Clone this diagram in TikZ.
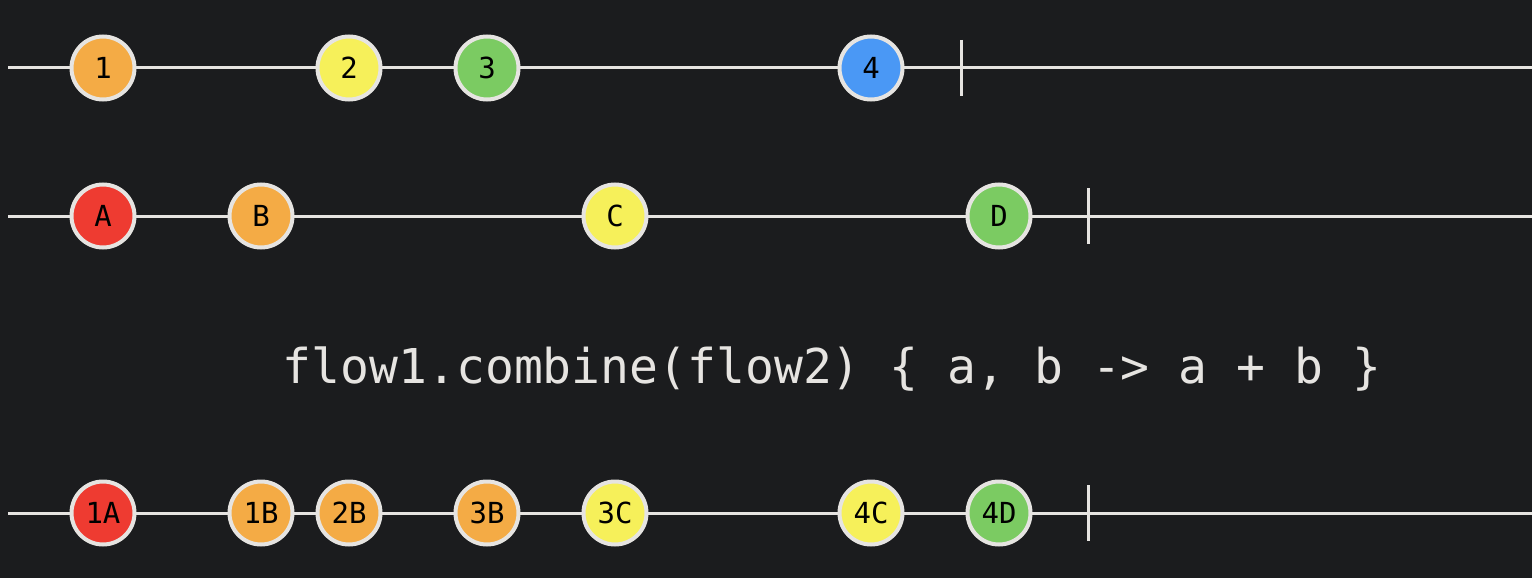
\documentclass[tikz,border=0pt]{standalone}
\usepackage{fontspec}
\setmonofont{DejaVu Sans Mono}
\definecolor{bg}{HTML}{1B1C1E}
\definecolor{ln}{HTML}{E6E4E1}
\definecolor{cor}{HTML}{F4AB45}
\definecolor{cye}{HTML}{F6F05A}
\definecolor{cgr}{HTML}{7BCB62}
\definecolor{cbl}{HTML}{4A98F5}
\definecolor{cre}{HTML}{EE3B31}
\tikzset{
  marble/.style={circle,draw=ln,line width=4pt,minimum size=63pt,inner sep=0pt,
    font=\ttfamily\fontsize{29}{29}\selectfont,text=black},
  timeline/.style={draw=ln,line width=3pt},
  tickmark/.style={draw=ln,line width=3pt},
}
\begin{document}
\begin{tikzpicture}[x=1pt,y=-1pt]
\fill[bg] (0,0) rectangle (1532,578);
\useasboundingbox (0,0) rectangle (1532,578);
% row 1
\coordinate (s1) at (8,68);
\coordinate (e1) at (1532,68);
\coordinate (t1a) at (961,40);
\coordinate (t1b) at (961,96);
\draw[timeline] (s1) -- (e1);
\draw[tickmark] (t1a) -- (t1b);
\node[marble,fill=cor] (n1) at (103,68) {1};
\node[marble,fill=cye] (n2) at (349,68) {2};
\node[marble,fill=cgr] (n3) at (487,68) {3};
\node[marble,fill=cbl] (n4) at (871,68) {4};
% row 2
\coordinate (s2) at (8,216);
\coordinate (e2) at (1532,216);
\coordinate (t2a) at (1088,188);
\coordinate (t2b) at (1088,244);
\draw[timeline] (s2) -- (e2);
\draw[tickmark] (t2a) -- (t2b);
\node[marble,fill=cre] (nA) at (103,216) {A};
\node[marble,fill=cor] (nB) at (261,216) {B};
\node[marble,fill=cye] (nC) at (615,216) {C};
\node[marble,fill=cgr] (nD) at (999,216) {D};
% operator
\node[font=\ttfamily\fontsize{48}{48}\selectfont,text=ln,inner sep=0pt] (op) at (832,369) {flow1.combine(flow2) \{ a, b -> a + b \}};
% row 3
\coordinate (s3) at (8,513);
\coordinate (e3) at (1532,513);
\coordinate (t3a) at (1088,485);
\coordinate (t3b) at (1088,541);
\draw[timeline] (s3) -- (e3);
\draw[tickmark] (t3a) -- (t3b);
\node[marble,fill=cre] (r1) at (103,513) {1A};
\node[marble,fill=cor] (r2) at (261,513) {1B};
\node[marble,fill=cor] (r3) at (349,513) {2B};
\node[marble,fill=cor] (r4) at (487,513) {3B};
\node[marble,fill=cye] (r5) at (615,513) {3C};
\node[marble,fill=cye] (r6) at (871,513) {4C};
\node[marble,fill=cgr] (r7) at (999,513) {4D};
\end{tikzpicture}
\end{document}
